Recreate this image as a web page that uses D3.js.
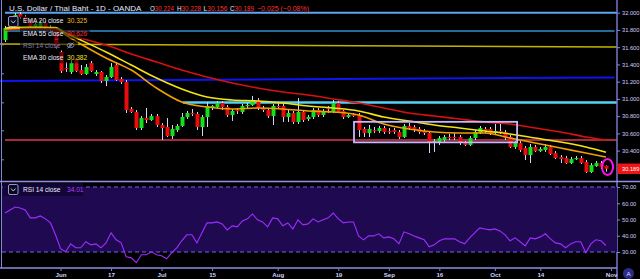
<!DOCTYPE html>
<html>
<head>
<meta charset="utf-8">
<script src="https://cdn.jsdelivr.net/npm/d3@7"></script>
<style>
body{margin:0;background:#000;overflow:hidden}
svg{display:block}
text{font-family:"Liberation Sans",Arial,sans-serif}
</style>
</head>
<body>
<script>
(function(){
'use strict';

var W = 640, H = 279;

// trading days (weekdays) May 17 .. Oct 31 2019, one more slot for Nov 1
var startDay = '2019-05-17';
var endDay = '2019-11-01';

var opens = [31.683,31.822,31.903,31.985,31.950,31.903,31.834,31.834,31.880,31.834,
	31.799,31.544,31.358,31.312,31.451,31.335,31.289,31.416,31.289,31.312,
	31.208,31.254,31.393,31.231,31.196,30.883,30.848,30.662,30.778,30.755,
	30.801,30.697,30.674,30.569,30.639,30.686,30.790,30.836,30.825,30.674,
	30.790,30.906,30.906,30.952,30.906,30.813,30.871,30.848,30.918,30.929,
	30.987,30.894,30.871,30.801,30.918,30.918,30.790,30.836,30.732,30.848,
	30.767,30.790,30.871,30.813,30.894,30.848,30.952,30.860,30.790,30.813,
	30.813,30.651,30.604,30.639,30.627,30.662,30.627,30.639,30.616,30.558,
	30.686,30.674,30.651,30.627,30.604,30.488,30.500,30.523,30.558,30.558,
	30.558,30.488,30.465,30.546,30.604,30.651,30.651,30.604,30.627,30.616,
	30.558,30.442,30.488,30.430,30.349,30.442,30.395,30.407,30.442,30.372,
	30.326,30.314,30.256,30.302,30.314,30.268,30.152,30.221,30.256,30.224];

var highs = [31.846,31.927,31.996,32.008,31.973,31.927,31.892,31.915,31.903,31.857,
	31.822,31.567,31.428,31.451,31.474,31.393,31.405,31.440,31.335,31.324,
	31.277,31.416,31.428,31.254,31.219,30.906,30.871,30.801,30.894,30.825,
	30.825,30.720,30.778,30.697,30.709,30.836,30.860,30.883,30.848,30.813,
	30.964,30.929,30.975,30.975,30.929,30.883,30.894,30.941,30.952,31.034,
	31.010,30.918,30.894,30.941,30.952,30.941,30.871,30.860,31.010,30.871,
	30.813,30.894,30.894,30.883,30.918,30.987,30.975,30.871,30.836,30.836,
	30.836,30.674,30.697,30.674,30.686,30.686,30.662,30.662,30.639,30.709,
	30.720,30.697,30.674,30.651,30.627,30.535,30.569,30.581,30.593,30.604,
	30.581,30.511,30.569,30.639,30.686,30.674,30.674,30.709,30.709,30.639,
	30.581,30.511,30.511,30.453,30.477,30.465,30.442,30.477,30.465,30.395,
	30.349,30.338,30.326,30.338,30.338,30.291,30.256,30.279,30.279,30.228];

var lows = [31.660,31.799,31.880,31.927,31.880,31.822,31.811,31.822,31.811,31.776,
	31.579,31.300,31.312,31.289,31.312,31.277,31.277,31.312,31.266,31.184,
	31.149,31.242,31.208,31.173,30.836,30.836,30.639,30.639,30.720,30.744,
	30.674,30.523,30.558,30.535,30.616,30.674,30.767,30.801,30.639,30.569,
	30.674,30.871,30.883,30.871,30.790,30.744,30.825,30.825,30.894,30.918,
	30.871,30.848,30.778,30.697,30.883,30.732,30.732,30.709,30.709,30.732,
	30.744,30.767,30.790,30.790,30.836,30.836,30.836,30.767,30.778,30.790,
	30.558,30.558,30.558,30.604,30.604,30.593,30.593,30.593,30.535,30.546,
	30.639,30.616,30.593,30.581,30.372,30.384,30.465,30.500,30.523,30.523,
	30.465,30.453,30.453,30.523,30.593,30.604,30.581,30.593,30.593,30.523,
	30.430,30.419,30.384,30.291,30.256,30.384,30.384,30.384,30.349,30.302,
	30.256,30.245,30.245,30.291,30.245,30.140,30.140,30.210,30.187,30.156];

var closes = [31.822,31.903,31.973,31.950,31.903,31.834,31.869,31.880,31.834,31.799,
	31.602,31.324,31.347,31.416,31.324,31.289,31.370,31.324,31.312,31.208,
	31.254,31.370,31.219,31.196,30.871,30.848,30.662,30.778,30.755,30.801,
	30.697,30.662,30.569,30.651,30.686,30.790,30.836,30.825,30.674,30.790,
	30.918,30.918,30.952,30.906,30.813,30.860,30.860,30.918,30.929,30.987,
	30.894,30.871,30.801,30.918,30.906,30.790,30.836,30.732,30.848,30.755,
	30.790,30.871,30.813,30.860,30.883,30.952,30.848,30.790,30.813,30.801,
	30.639,30.604,30.651,30.627,30.662,30.616,30.616,30.616,30.558,30.686,
	30.662,30.639,30.616,30.604,30.488,30.511,30.546,30.558,30.546,30.546,
	30.488,30.465,30.546,30.616,30.662,30.627,30.604,30.627,30.616,30.546,
	30.442,30.488,30.407,30.349,30.442,30.395,30.419,30.442,30.361,30.314,
	30.302,30.256,30.302,30.314,30.256,30.152,30.233,30.256,30.214,30.189];

var rsiValues = [54.0,55.9,57.7,57.1,55.9,51.0,51.0,52.2,50.4,47.9,
	40.6,32.0,30.1,35.0,32.6,32.6,36.3,34.4,35.0,32.6,
	35.6,41.8,37.5,35.6,27.1,26.4,23.4,28.3,28.3,30.1,
	28.3,27.7,25.8,29.5,32.6,36.9,40.6,40.6,35.6,41.8,
	47.9,47.9,48.5,47.3,43.6,46.1,45.5,49.1,50.4,53.4,
	49.8,48.5,45.5,51.0,50.4,46.1,47.9,44.2,49.8,46.7,
	47.3,50.4,48.5,49.8,51.0,54.0,50.4,47.9,48.5,48.5,
	39.9,37.5,39.9,39.9,41.2,38.7,39.3,38.1,35.0,42.4,
	41.2,39.9,38.7,37.5,33.2,34.4,36.9,38.1,38.1,38.1,
	36.3,35.0,38.7,41.8,44.8,44.2,43.6,44.2,43.0,40.6,
	36.9,38.7,36.3,33.8,38.7,38.1,39.3,41.2,38.1,35.6,
	35.0,32.6,35.0,36.3,36.3,29.5,35.0,37.5,36.9,34.01];

// moving averages at these bars
var emaIdx = [0,5,10,12,15,20,25,30,35,40,45,50,55,60,65,70,75,80,85,90,95,100,105,110,115,119];
var ema20 = [31.811,31.822,31.822,31.741,31.637,31.474,31.335,31.126,30.964,30.906,30.883,30.894,30.883,
	30.860,30.848,30.813,30.709,30.651,30.616,30.604,30.604,30.546,30.488,30.430,30.372,30.325];
var ema30 = [31.822,31.834,31.828,31.764,31.683,31.544,31.393,31.242,31.115,31.022,30.987,30.976,30.952,
	30.918,30.894,30.860,30.790,30.744,30.697,30.662,30.627,30.593,30.546,30.500,30.442,30.382];
var ema55 = [31.799,31.811,31.799,31.776,31.706,31.625,31.521,31.428,31.335,31.254,31.184,31.126,31.080,
	31.045,30.999,30.952,30.894,30.836,30.801,30.767,30.732,30.709,30.662,30.616,30.558,30.523];

// drawn trend / level lines
var levelFrom = [0, 0, -1, -1, 35.2, 0];
var levelTo = [122, 120.7, 121.3, 120.7, 122, 122];
var levelP0 = [32.000, 31.787, 31.637, 31.208, 30.957, 30.523];
var levelP1 = [32.000, 31.787, 31.602, 31.248, 30.957, 30.523];
var levelColors = ['#5aa6f4', '#2f8fd2', '#c4b400', '#0c14f2', '#52d3f8', '#a8283e'];
var levelWidths = [2, 1.5, 1.5, 2, 2.5, 2];

var boxIdx = [69.1, 101.4];
var boxPrice = [30.734, 30.496];
var markIdx = 119.3, markPrice = 30.21;

var priceTicks = [32.0, 31.8, 31.6, 31.4, 31.2, 31.0, 30.8, 30.6, 30.4];
var rsiTicks = [70, 60, 50, 40, 30];
var timeTickDates = ['2019-06-03','2019-06-17','2019-07-01','2019-07-15','2019-08-01','2019-08-19',
	'2019-09-02','2019-09-16','2019-10-01','2019-10-14','2019-11-01'];
var timeTickLabels = ['Jun','17','Jul','15','Aug','19','Sep','16','Oct','14','Nov'];

var legendNames = ['EMA 20 close', 'EMA 55 close', 'RSI 14 close', 'EMA 30 close'];
var legendValues = ['30.325', '30.626', '', '30.382'];
var legendColors = ['#f2b81c', '#ff2a2a', '', '#f0e020'];

var parse = d3.timeParse('%Y-%m-%d');
var days = d3.timeDay.range(parse(startDay), d3.timeDay.offset(parse(endDay), 1))
	.filter(function(d){ var w = d.getDay(); return w > 0 && w < 6; });
var dayIndex = {};
days.forEach(function(d, i){ dayIndex[+d] = i; });

var x = d3.scaleLinear().domain([0, 119]).range([5, 606]);
var y = d3.scaleLinear().domain([30, 32]).range([185.1, 12.7]);
var yr = d3.scaleLinear().domain([30, 70]).range([252, 187]);

var axisCol = '#8484dc', labelCol = '#cfcfff';
var fontStack = '"Liberation Sans",Arial,sans-serif';

var svg = d3.select('body').append('svg').attr('width', W).attr('height', H);
svg.append('rect').attr('width', W).attr('height', H).attr('fill', '#000');

var defs = svg.append('defs');
defs.append('clipPath').attr('id', 'mainClip').append('rect')
	.attr('x', 0).attr('y', 0).attr('width', 617).attr('height', 181);
defs.append('clipPath').attr('id', 'rsiClip').append('rect')
	.attr('x', 0).attr('y', 182).attr('width', 617).attr('height', 86);

var main = svg.append('g').attr('clip-path', 'url(#mainClip)');

// level lines
main.selectAll('line.level').data(levelP0).enter().append('line')
	.attr('class', 'level')
	.attr('x1', function(d, i){ return x(levelFrom[i]); })
	.attr('x2', function(d, i){ return x(levelTo[i]); })
	.attr('y1', function(d){ return y(d); })
	.attr('y2', function(d, i){ return y(levelP1[i]); })
	.attr('stroke', function(d, i){ return levelColors[i]; })
	.attr('stroke-width', function(d, i){ return levelWidths[i]; });

// candles
var bars = closes.map(function(c, i){
	return {i: i, o: opens[i], h: highs[i], l: lows[i], c: c};
});
main.selectAll('line.wick').data(bars).enter().append('line')
	.attr('class', 'wick')
	.attr('x1', function(d){ return Math.round(x(d.i)) + 0.5; })
	.attr('x2', function(d){ return Math.round(x(d.i)) + 0.5; })
	.attr('y1', function(d){ return y(d.h); })
	.attr('y2', function(d){ return y(d.l); })
	.attr('stroke', '#d4d4f4').attr('stroke-width', 1);
main.selectAll('rect.body').data(bars).enter().append('rect')
	.attr('class', 'body')
	.attr('x', function(d){ return Math.round(x(d.i)) - 1.5; })
	.attr('width', 4)
	.attr('y', function(d){ return y(Math.max(d.o, d.c)); })
	.attr('height', function(d){ return Math.max(1.2, Math.abs(y(d.o) - y(d.c))); })
	.attr('fill', function(d){ return d.c >= d.o ? '#12e01a' : '#e80c0c'; });

// moving averages
function emaLine(vals){
	return d3.line()
		.x(function(d, i){ return x(emaIdx[i]); })
		.y(function(d){ return y(d); })
		.curve(d3.curveMonotoneX)(vals);
}
main.append('path').attr('d', emaLine(ema55)).attr('fill', 'none')
	.attr('stroke', '#d81010').attr('stroke-width', 1.6);
main.append('path').attr('d', emaLine(ema20)).attr('fill', 'none')
	.attr('stroke', '#f0a000').attr('stroke-width', 1.6);
main.append('path').attr('d', emaLine(ema30)).attr('fill', 'none')
	.attr('stroke', '#f4e414').attr('stroke-width', 1.6);

// range box and marker
main.append('rect')
	.attr('x', x(boxIdx[0])).attr('y', y(boxPrice[0]))
	.attr('width', x(boxIdx[1]) - x(boxIdx[0]))
	.attr('height', y(boxPrice[1]) - y(boxPrice[0]))
	.attr('fill', 'none').attr('stroke', '#c6b8ff').attr('stroke-width', 1.8);
main.append('ellipse')
	.attr('cx', x(markIdx)).attr('cy', y(markPrice))
	.attr('rx', 5.5).attr('ry', 8)
	.attr('fill', 'none').attr('stroke', '#ff10f0').attr('stroke-width', 2);

// title
svg.append('text').attr('x', 9).attr('y', 10.5)
	.attr('font-size', 8).attr('fill', '#e8e8ff')
	.text('U.S. Dollar / Thai Baht - 1D - OANDA');
var ohlcKeys = ['O', 'H', 'L', 'C'];
var ohlcVals = [opens[119], highs[119], lows[119], closes[119]];
var ohlcX = [150, 177, 203.5, 230];
ohlcKeys.forEach(function(k, i){
	var t = svg.append('text').attr('x', ohlcX[i]).attr('y', 10.5).attr('font-size', 7)
		.attr('textLength', 24).attr('lengthAdjust', 'spacingAndGlyphs');
	t.append('tspan').attr('fill', '#e8e8ff').text(k);
	t.append('tspan').attr('fill', '#ff3030').text(d3.format('.3f')(ohlcVals[i]));
});
var chg = closes[119] - closes[118];
svg.append('text').attr('x', 257).attr('y', 10.5).attr('font-size', 7).attr('fill', '#ff3030')
	.attr('textLength', 52).attr('lengthAdjust', 'spacingAndGlyphs')
	.text('\u2212' + d3.format('.3f')(Math.abs(chg)) + ' (\u2212' + d3.format('.2f')(Math.abs(chg) / closes[118] * 100) + '%)');

// legend
var legendY = [21, 33.2, 45.4, 57.8];
legendNames.forEach(function(n, i){
	svg.append('rect').attr('x', 20).attr('y', legendY[i] - 5.5)
		.attr('width', i === 2 ? 58 : 70).attr('height', 11)
		.attr('fill', '#000').attr('opacity', 0.55);
	svg.append('text').attr('x', 23).attr('y', legendY[i] + 2.4)
		.attr('font-size', 6.6).attr('fill', i === 2 ? '#7c7cb4' : '#ececff').text(n);
	if(legendValues[i]){
		svg.append('text').attr('x', 67).attr('y', legendY[i] + 2.4)
			.attr('font-size', 6.6).attr('fill', legendColors[i]).text(legendValues[i]);
	}
});
// eye-off icon
var eye = svg.append('g').attr('stroke', '#9a9ac8').attr('fill', 'none').attr('stroke-width', 0.8);
eye.append('ellipse').attr('cx', 70.5).attr('cy', legendY[2]).attr('rx', 3.4).attr('ry', 2.2);
eye.append('circle').attr('cx', 70.5).attr('cy', legendY[2]).attr('r', 0.9);
eye.append('line').attr('x1', 67.5).attr('y1', legendY[2] + 3).attr('x2', 73.5).attr('y2', legendY[2] - 3);
// collapse button
svg.append('rect').attr('x', 8.5).attr('y', 16.5).attr('width', 9.5).attr('height', 10)
	.attr('rx', 1.5).attr('fill', '#0a0a1e').attr('stroke', '#a8a8e0').attr('stroke-width', 0.9);
svg.append('path').attr('d', 'M11,20.5 L13.25,23 L15.5,20.5').attr('fill', 'none')
	.attr('stroke', '#d8d8ff').attr('stroke-width', 0.9);

// left scale line
svg.append('line').attr('x1', 1.5).attr('x2', 1.5).attr('y1', 0).attr('y2', 268)
	.attr('stroke', axisCol).attr('stroke-width', 1);
svg.append('g').attr('transform', 'translate(1.5,0)')
	.call(d3.axisRight(y).tickValues([31.633, 31.297, 30.960, 30.636, 30.299]).tickSize(2.5).tickFormat(''))
	.call(function(g){
		g.select('.domain').remove();
		g.selectAll('line').attr('stroke', axisCol);
	});

function styleRightAxis(g){
	g.select('.domain').remove();
	g.selectAll('line').attr('stroke', axisCol);
	g.selectAll('text').attr('fill', labelCol).attr('font-size', 5.7)
		.attr('font-family', fontStack);
}

// price axis
svg.append('line').attr('x1', 617).attr('x2', 617).attr('y1', 0).attr('y2', H)
	.attr('stroke', '#7676c8').attr('stroke-width', 1.5);
svg.append('g').attr('transform', 'translate(617,0)')
	.call(d3.axisRight(y).tickValues(priceTicks).tickSize(3).tickPadding(2).tickFormat(d3.format('.3f')))
	.call(styleRightAxis);

// last price label
svg.append('rect').attr('x', 617.5).attr('y', y(closes[119]) - 5.3).attr('width', 23).attr('height', 10.5)
	.attr('fill', '#f01414');
svg.append('text').attr('x', 622).attr('y', y(closes[119]) + 2.1)
	.attr('font-size', 5.7).attr('fill', '#fff').text(d3.format('.3f')(closes[119]));

// RSI pane
svg.append('line').attr('x1', 0).attr('x2', W).attr('y1', 181.5).attr('y2', 181.5)
	.attr('stroke', '#9090e8').attr('stroke-width', 1.5);
var rsiG = svg.append('g').attr('clip-path', 'url(#rsiClip)');
rsiG.append('rect').attr('x', 2).attr('y', yr(70)).attr('width', 615).attr('height', yr(30) - yr(70))
	.attr('fill', '#1f0a52');
[70, 30].forEach(function(v){
	rsiG.append('line').attr('x1', 2).attr('x2', 617).attr('y1', yr(v)).attr('y2', yr(v))
		.attr('stroke', '#7060f0').attr('stroke-width', 1).attr('stroke-dasharray', '4,3');
});
rsiG.append('path')
	.attr('d', d3.line().x(function(d, i){ return x(i); }).y(function(d){ return yr(d); })(rsiValues))
	.attr('fill', 'none').attr('stroke', '#a02cff').attr('stroke-width', 1.1);

svg.append('g').attr('transform', 'translate(617,0)')
	.call(d3.axisRight(yr).tickValues(rsiTicks).tickSize(3).tickPadding(2).tickFormat(d3.format('.2f')))
	.call(styleRightAxis);

// RSI legend
svg.append('rect').attr('x', 3).attr('y', 183).attr('width', 80).attr('height', 13)
	.attr('fill', '#120634').attr('opacity', 0.9);
svg.append('rect').attr('x', 8.5).attr('y', 184.5).attr('width', 9.5).attr('height', 10)
	.attr('rx', 1.5).attr('fill', '#0a0a1e').attr('stroke', '#a8a8e0').attr('stroke-width', 0.9);
svg.append('path').attr('d', 'M11,188.5 L13.25,191 L15.5,188.5').attr('fill', 'none')
	.attr('stroke', '#d8d8ff').attr('stroke-width', 0.9);
svg.append('text').attr('x', 23).attr('y', 192).attr('font-size', 6.6).attr('fill', '#ececff')
	.text('RSI 14 close');
svg.append('text').attr('x', 67).attr('y', 192).attr('font-size', 6.6).attr('fill', '#b040ff')
	.text(d3.format('.2f')(rsiValues[rsiValues.length - 1]));

// time axis
svg.append('line').attr('x1', 0).attr('x2', 617).attr('y1', 268).attr('y2', 268)
	.attr('stroke', '#8c8ce8').attr('stroke-width', 1.5);
var tickIdx = timeTickDates.map(function(s){ return dayIndex[+parse(s)]; });
svg.append('g').attr('transform', 'translate(0,268.5)')
	.call(d3.axisBottom(x).tickValues(tickIdx).tickSize(2.5).tickPadding(1.5)
		.tickFormat(function(d, i){ return timeTickLabels[i]; }))
	.call(function(g){
		g.select('.domain').remove();
		g.selectAll('line').attr('stroke', axisCol);
		g.selectAll('text').attr('fill', labelCol).attr('font-size', 6.2).attr('font-weight', 'bold')
			.attr('font-family', fontStack);
	});

// auto-scale button
svg.append('circle').attr('cx', 628.5).attr('cy', 273.5).attr('r', 5.5).attr('fill', '#2c2c86');
svg.append('text').attr('x', 628.5).attr('y', 275.8).attr('text-anchor', 'middle')
	.attr('font-size', 6.2).attr('fill', '#e0e0ff').text('A');

})();
</script>
</body>
</html>
